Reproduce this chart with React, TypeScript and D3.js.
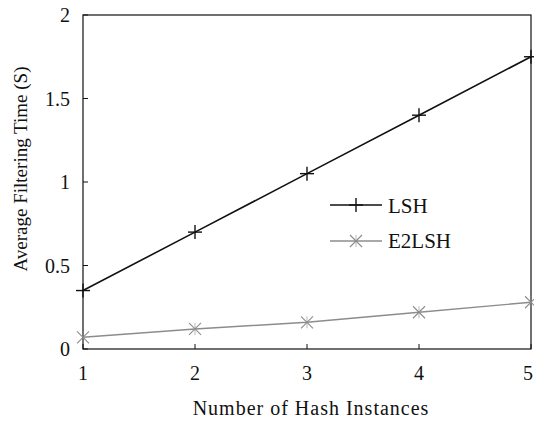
import React from "react";
import * as d3 from "d3";

const xValues = [1, 2, 3, 4, 5];
const lshValues = [0.35, 0.7, 1.05, 1.4, 1.75];
const e2lshValues = [0.07, 0.12, 0.16, 0.22, 0.28];
const yTicks = [0, 0.5, 1, 1.5, 2];
const yTickLabels = ["0", "0.5", "1", "1.5", "2"];
const xTicks = [1, 2, 3, 4, 5];
const seriesNames = ["LSH", "E2LSH"];

const W = 534;
const H = 423;
const m = { left: 83, right: 531, top: 15, bottom: 349 };
const font = "'Liberation Serif'";

export default function App() {
  const x = d3.scaleLinear().domain([1, 5]).range([m.left, m.right]);
  const y = d3.scaleLinear().domain([0, 2]).range([m.bottom, m.top]);
  const line = d3
    .line<number>()
    .x((_, i) => x(xValues[i]))
    .y((d) => y(d));

  const plus = (cx: number, cy: number, s: number, color: string, key: string) => (
    <g key={key} stroke={color} strokeWidth={1.4}>
      <line x1={cx - s} x2={cx + s} y1={cy} y2={cy} />
      <line x1={cx} x2={cx} y1={cy - s} y2={cy + s} />
    </g>
  );
  const cross = (cx: number, cy: number, s: number, color: string, key: string) => (
    <g key={key} stroke={color} strokeWidth={1.1}>
      <line x1={cx - s} x2={cx + s} y1={cy - s} y2={cy + s} />
      <line x1={cx - s} x2={cx + s} y1={cy + s} y2={cy - s} />
      <line x1={cx} x2={cx} y1={cy - s} y2={cy + s} strokeWidth={0.6} />
    </g>
  );

  const gray = "#8c8c8c";
  const legX1 = 330;
  const legX2 = 382;
  const legY = [205, 241];
  const st = { fontFamily: font };

  return (
    <svg
      width={W}
      height={H}
      style={{ position: "absolute", left: 0, top: 0, background: "#fff" }}
    >
      <rect x={0} y={0} width={W} height={H} fill="#fff" />
      {/* frame */}
      <rect
        x={m.left}
        y={m.top}
        width={m.right - m.left}
        height={m.bottom - m.top}
        fill="none"
        stroke="#111"
        strokeWidth={1.2}
      />
      {/* y ticks */}
      {yTicks.map((t, i) => (
        <g key={"yt" + i}>
          <line x1={m.left} x2={m.left + 5} y1={y(t)} y2={y(t)} stroke="#111" />
          <text x={m.left - 13} y={y(t) + 7} fontSize={20} textAnchor="end" fill="#111" style={st}>
            {yTickLabels[i]}
          </text>
        </g>
      ))}
      {/* x ticks */}
      {xTicks.map((t, i) => (
        <g key={"xt" + i}>
          <line x1={x(t)} x2={x(t)} y1={m.bottom} y2={m.bottom - 5} stroke="#111" />
          <text
            x={Math.min(x(t), 528)}
            y={380}
            fontSize={20}
            textAnchor="middle"
            fill="#111"
            style={st}
          >
            {t}
          </text>
        </g>
      ))}
      <text
        x={311}
        y={415}
        fontSize={20}
        letterSpacing={1}
        textAnchor="middle"
        fill="#111"
        style={st}
      >
        Number of Hash Instances
      </text>
      <text
        transform={`translate(27, 169) rotate(-90)`}
        fontSize={19}
        textAnchor="middle"
        fill="#111"
        style={st}
      >
        Average Filtering Time (S)
      </text>
      {/* series */}
      <path d={line(e2lshValues) || ""} fill="none" stroke={gray} strokeWidth={1.4} />
      {e2lshValues.map((v, i) => cross(x(xValues[i]), y(v), 6, gray, "e" + i))}
      <path d={line(lshValues) || ""} fill="none" stroke="#111" strokeWidth={1.6} />
      {lshValues.map((v, i) => plus(x(xValues[i]), y(v), 7, "#111", "l" + i))}
      {/* legend */}
      <line x1={legX1} x2={legX2} y1={legY[0]} y2={legY[0]} stroke="#111" strokeWidth={1.6} />
      {plus(356, legY[0], 7, "#111", "lg0")}
      <text x={388} y={213} fontSize={21} fill="#111" style={st}>
        {seriesNames[0]}
      </text>
      <line x1={legX1} x2={legX2} y1={legY[1]} y2={legY[1]} stroke={gray} strokeWidth={1.4} />
      {cross(356, legY[1], 6, gray, "lg1")}
      <text x={388} y={248} fontSize={21} fill="#111" style={st}>
        {seriesNames[1]}
      </text>
    </svg>
  );
}
